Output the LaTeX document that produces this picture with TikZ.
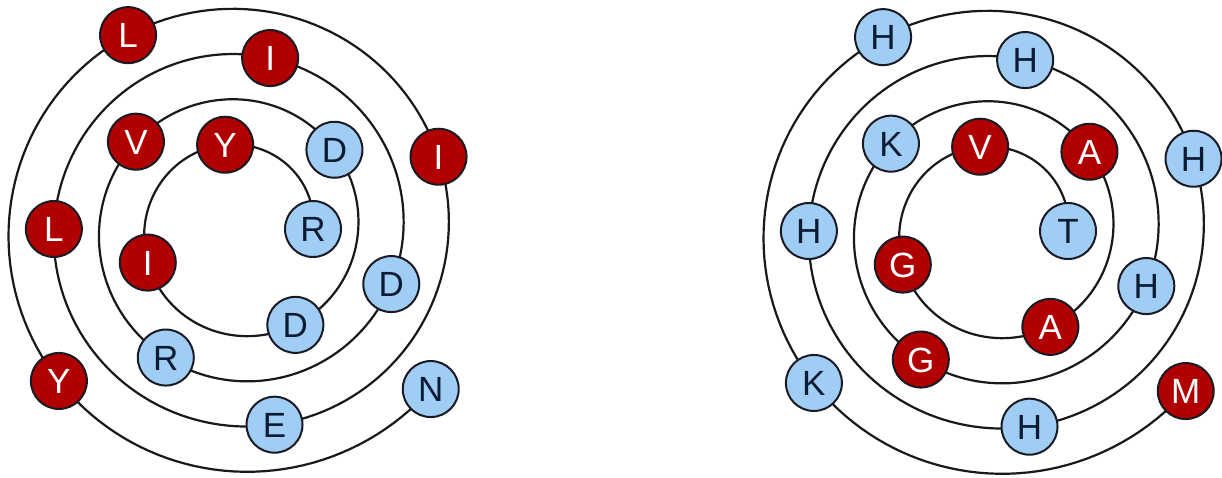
\documentclass[tikz,border=0pt]{standalone}
\usepackage{fontspec}
\setmainfont{Liberation Sans}
\definecolor{redfill}{HTML}{B00000}
\definecolor{bluefill}{HTML}{9FCDF3}
\definecolor{edge}{HTML}{1A1A24}
\definecolor{navy}{HTML}{0B1B33}
\begin{document}
\begin{tikzpicture}[x=1pt,y=-1pt,
  ball/.style={circle, draw=edge, line width=2pt, minimum size=56pt, inner sep=0pt,
    text height=25pt, text depth=0pt, font=\fontsize{35}{35}\selectfont},
  spiral/.style={draw=black!90, line width=2.2pt}]
\useasboundingbox (0,0) rectangle (1222,478);
\fill[white] (0,0) rectangle (1222,478);
% left spiral
\coordinate (cL) at (240,229);
\draw[spiral] plot[domain=-50:1350, samples=600, variable=\t]
  ({240-(242.7-0.1257*\t)*sin(\t)}, {229+(242.7-0.1257*\t)*cos(\t)});
\foreach \l/\f/\tc [count=\k from 0] in {N/bluefill/navy, Y/redfill/white, L/redfill/white,
  I/redfill/white, E/bluefill/navy, L/redfill/white, I/redfill/white, D/bluefill/navy,
  R/bluefill/navy, V/redfill/white, D/bluefill/navy, D/bluefill/navy, I/redfill/white,
  Y/redfill/white, R/bluefill/navy} {
  \pgfmathsetmacro\ph{-50+100*\k}
  \pgfmathsetmacro\rr{242.7-0.1257*\ph}
  \node[ball, fill=\f, text=\tc] (a\k) at ({240-\rr*sin(\ph)},{229+\rr*cos(\ph)}) {\l};
}
% right spiral
\coordinate (cR) at (995,231);
\draw[spiral] plot[domain=-50:1350, samples=600, variable=\t]
  ({995-(242.7-0.1257*\t)*sin(\t)}, {231+(242.7-0.1257*\t)*cos(\t)});
\foreach \l/\f/\tc [count=\k from 0] in {M/redfill/white, K/bluefill/navy, H/bluefill/navy,
  H/bluefill/navy, H/bluefill/navy, H/bluefill/navy, H/bluefill/navy, H/bluefill/navy,
  G/redfill/white, K/bluefill/navy, A/redfill/white, A/redfill/white, G/redfill/white,
  V/redfill/white, T/bluefill/navy} {
  \pgfmathsetmacro\ph{-50+100*\k}
  \pgfmathsetmacro\rr{242.7-0.1257*\ph}
  \node[ball, fill=\f, text=\tc] (b\k) at ({995-\rr*sin(\ph)},{231+\rr*cos(\ph)}) {\l};
}
\end{tikzpicture}
\end{document}
